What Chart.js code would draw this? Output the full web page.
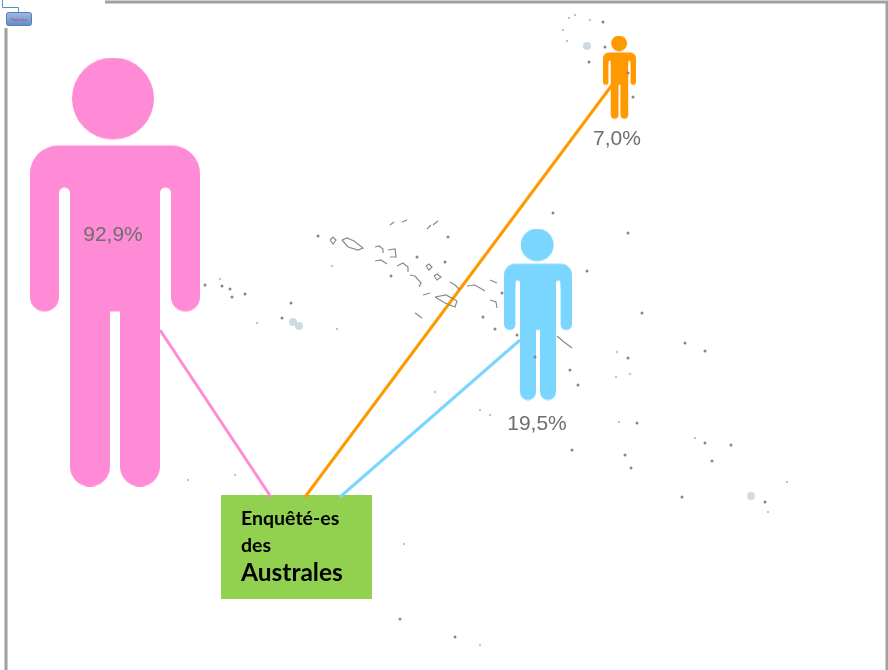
<!DOCTYPE html>
<html>
<head>
<meta charset="utf-8">
<script src="https://cdn.jsdelivr.net/npm/chart.js@4/dist/chart.umd.js"></script>
<style>
  html, body { margin: 0; padding: 0; background: #fff; }
  canvas { display: block; filter: blur(0.6px); }
</style>
</head>
<body>
<canvas id="chart" width="888" height="670"></canvas>
<script>
// share of respondents per figure
const groups = ['rose', 'bleu', 'orange'];
const shares = [92.9, 19.5, 7.0];
const figureColors = ['#FF8AD6', '#7AD5FF', '#FF9900'];

// where each figure and its label sit on the map
const figureX = [115, 538, 619.5];
const figureY = [272, 314.5, 77.5];
const labelX = [113, 537, 617];
const labelY = [235, 424, 139];

// connector lines, box end then figure end
const pinkLineX = [271, 160];
const pinkLineY = [497, 330];
const blueLineX = [340, 520];
const blueLineY = [497, 340];
const orangeLineX = [305, 612];
const orangeLineY = [497, 85];

// small islands
const isletX = [318, 448, 445, 391, 553, 587, 483, 495, 502, 205, 222, 230, 232, 245, 291, 282, 417,
  517, 570, 578, 535, 603, 605, 589, 633, 628, 642, 685, 705, 628, 637, 705, 731, 625, 631, 712, 682, 765, 628, 572, 400, 455];
const isletY = [236, 237, 262, 276, 213, 271, 317, 329, 293, 285, 286, 289, 297, 294, 303, 318, 257,
  335, 370, 385, 357, 22, 47, 62, 97, 73, 313, 343, 351, 358, 423, 443, 445, 455, 468, 461, 497, 502, 233, 450, 619, 637];
const faintX = [332, 220, 257, 337, 563, 567, 587, 617, 616, 630, 619, 695, 768, 787, 188, 235, 404, 435, 480, 490, 480, 569, 575, 590];
const faintY = [266, 279, 323, 329, 30, 41, 46, 352, 377, 374, 422, 438, 512, 482, 480, 475, 544, 392, 410, 415, 645, 18, 15, 20];

// the larger pale islands
const paleX = [293, 299, 587, 751];
const paleY = [322, 326, 46, 496];

// atoll outlines, null breaks the line between two islands
const atollX = [330, 333, 336, 333, 330, null, 342, 347, 354, 363, 358, 348, 342, null, 375, 379, 383, 383, null,
  388, 395, 396, 390, null, 375, 381, 387, null, 397, 403, 408, 408, null, 410, 415, 421, 419, null, 423, 430, null,
  435, 446, 457, 455, 445, 435, null, 450, 455, 460, null, 467, 475, 485, null, 490, 497, null, 490, 496, 497, null,
  426, 429, 432, 429, 426, null, 434, 437, 441, 437, 434, null, 415, 422, null, 390, 394, null, 402, 407, null, 427, 431, null, 433, 438, null, 557, 564, 572];
const atollY = [240, 237, 240, 244, 240, null, 240, 238, 241, 248, 250, 247, 240, null, 247, 246, 249, 253, null,
  250, 249, 257, 257, null, 261, 260, 264, null, 266, 263, 267, 272, null, 275, 276, 283, 287, null, 295, 293, null,
  297, 295, 301, 307, 303, 297, null, 282, 285, 290, null, 286, 285, 291, null, 280, 283, null, 300, 302, 308, null,
  266, 264, 267, 270, 266, null, 276, 274, 277, 280, 276, null, 313, 318, null, 225, 222, null, 222, 220, null, 229, 225, null, 225, 221, null, 336, 342, 348];

// page frame and box around the title
const frameX = [105, 887, 887, null, 6, 6];
const frameY = [2, 2, 670, null, 28, 670];
const boxX = [221, 372];
const boxY = [495, 599];
const boxLines = ['Enquêté-es', 'des', 'Australes'];
const boxTextY = [525, 552, 581];

const figureScales = [1, 0.4, 0.194];

function personImage(color, s) {
  const c = document.createElement('canvas');
  c.width = Math.ceil(170 * s);
  c.height = Math.ceil(429 * s);
  const g = c.getContext('2d');
  g.scale(s, s);
  g.fillStyle = color;
  g.beginPath();
  g.arc(83, 41, 41, 0, Math.PI * 2);
  g.roundRect(0, 88, 170, 60, [28, 28, 0, 0]);
  g.roundRect(0, 115, 29, 139, 14.5);
  g.roundRect(141, 115, 29, 139, 14.5);
  g.fill();
  // gap between arm and torso
  g.globalCompositeOperation = 'destination-out';
  g.beginPath();
  g.roundRect(29, 130, 11, 200, 5.5);
  g.roundRect(130, 130, 11, 200, 5.5);
  g.fill();
  g.globalCompositeOperation = 'source-over';
  g.beginPath();
  g.rect(40, 120, 90, 134);
  g.roundRect(40, 200, 40, 229, 20);
  g.roundRect(90, 200, 40, 229, 20);
  g.fill();
  return c;
}

const toPoints = (xs, ys) => xs.map((x, i) => ({ x: x, y: ys[i] }));
const lineSet = (xs, ys, color) => ({
  data: toPoints(xs, ys),
  showLine: true,
  borderColor: color,
  borderWidth: 3,
  pointRadius: 0
});

const overlay = {
  id: 'overlay',
  beforeDatasetsDraw(chart) {
    const { ctx, scales } = chart;
    ctx.save();
    ctx.fillStyle = '#92D050';
    const bx = scales.x.getPixelForValue(boxX[0]);
    const by = scales.y.getPixelForValue(boxY[0]);
    ctx.fillRect(bx, by, scales.x.getPixelForValue(boxX[1]) - bx, scales.y.getPixelForValue(boxY[1]) - by);
    ctx.restore();
  },
  afterDatasetsDraw(chart) {
    const { ctx, scales } = chart;
    ctx.save();
    ctx.textAlign = 'center';
    ctx.textBaseline = 'middle';
    ctx.fillStyle = '#6e6e6e';
    ctx.font = '21px "Liberation Sans"';
    shares.forEach((v, i) => {
      ctx.fillText(v.toFixed(1).replace('.', ',') + '%', scales.x.getPixelForValue(labelX[i]), scales.y.getPixelForValue(labelY[i]));
    });

    ctx.textAlign = 'left';
    ctx.textBaseline = 'alphabetic';
    ctx.fillStyle = '#000';
    boxLines.forEach((t, i) => {
      ctx.font = (i === 2 ? '700 24.5px' : '700 19.5px') + ' Lato';
      ctx.fillText(t, scales.x.getPixelForValue(241), scales.y.getPixelForValue(boxTextY[i]));
    });

    // org chart node cut off at the corner
    ctx.strokeStyle = '#5b8ac6';
    ctx.lineWidth = 1;
    ctx.beginPath();
    ctx.moveTo(2.5, 0);
    ctx.lineTo(2.5, 7.5);
    ctx.lineTo(18.5, 7.5);
    ctx.lineTo(18.5, 12);
    ctx.stroke();
    const grad = ctx.createLinearGradient(0, 12, 0, 26);
    grad.addColorStop(0, '#a3bde0');
    grad.addColorStop(1, '#5f8ac4');
    ctx.fillStyle = grad;
    ctx.strokeStyle = '#4f81bd';
    ctx.beginPath();
    ctx.roundRect(6.5, 12.5, 25, 13, 2);
    ctx.fill();
    ctx.stroke();
    ctx.fillStyle = '#e0218a';
    ctx.font = '4px "Liberation Sans"';
    ctx.textAlign = 'center';
    ctx.textBaseline = 'middle';
    ctx.fillText('Parlance', 19, 19.5);
    ctx.restore();
  }
};

new Chart(document.getElementById('chart'), {
  type: 'scatter',
  data: {
    datasets: [
      { data: toPoints(paleX, paleY), pointRadius: 4, pointBackgroundColor: '#cddbe6', pointBorderWidth: 0 },
      { data: toPoints(faintX, faintY), pointRadius: 1.2, pointBackgroundColor: '#c4c4c4', pointBorderWidth: 0 },
      { data: toPoints(isletX, isletY), pointRadius: 1.5, pointBackgroundColor: '#888', pointBorderWidth: 0 },
      { data: toPoints(atollX, atollY), showLine: true, spanGaps: false, borderColor: '#8a8a8a', borderWidth: 1.2, pointRadius: 0 },
      lineSet(frameX, frameY, '#a0a0a0'),
      lineSet(pinkLineX, pinkLineY, figureColors[0]),
      lineSet(blueLineX, blueLineY, figureColors[1]),
      lineSet(orangeLineX, orangeLineY, figureColors[2]),
      {
        label: groups.join(' / '),
        data: toPoints(figureX, figureY),
        pointStyle: figureColors.map((c, i) => personImage(c, figureScales[i])),
        pointRadius: 10,
        clip: false
      }
    ]
  },
  options: {
    responsive: false,
    animation: false,
    layout: { padding: 0, autoPadding: false },
    plugins: { legend: { display: false }, tooltip: { enabled: false } },
    scales: {
      x: { type: 'linear', min: 0, max: 888, display: false },
      y: { type: 'linear', min: 0, max: 670, reverse: true, display: false }
    }
  },
  plugins: [overlay]
});
</script>
</body>
</html>
